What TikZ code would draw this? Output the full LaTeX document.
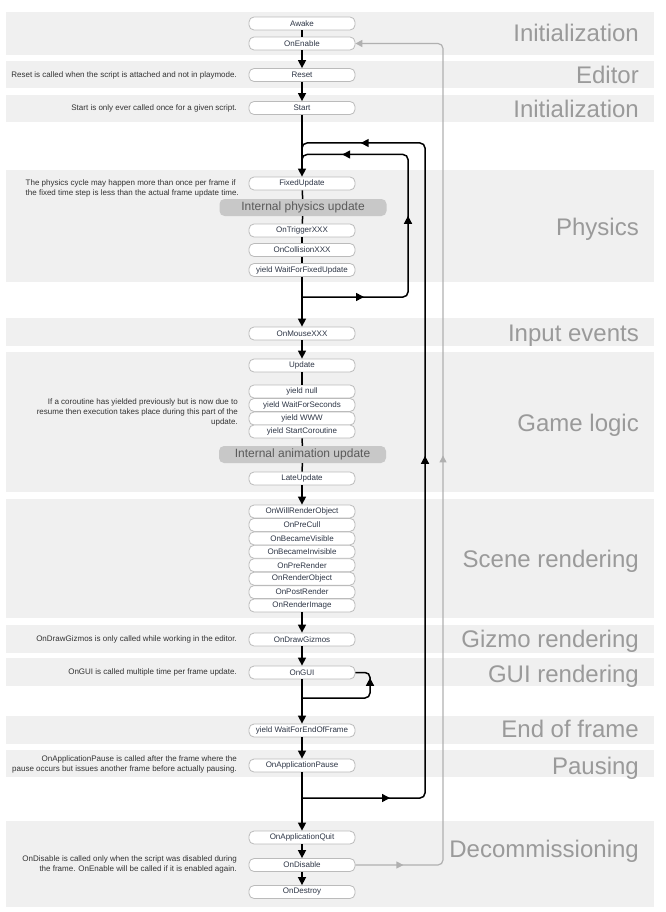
\documentclass[tikz,border=0pt]{standalone}
\usepackage{fontspec}
\setmainfont{Liberation Sans}
\usetikzlibrary{arrows.meta,decorations.markings}

\definecolor{band}{HTML}{F0F0F0}
\definecolor{boxline}{HTML}{BBBBBB}
\definecolor{nodetext}{HTML}{2E3646}
\definecolor{sectext}{HTML}{9A9A9A}
\definecolor{intfill}{HTML}{C8C8C8}
\definecolor{inttext}{HTML}{5A5A5A}
\definecolor{desctext}{HTML}{333333}
\definecolor{graylink}{HTML}{B0B0B0}

\tikzset{
  fn/.style={draw=boxline, line width=0.8pt, fill=white, rounded corners=5pt,
    minimum width=106pt, minimum height=13pt, inner sep=0pt, text=nodetext,
    font=\fontsize{8}{9}\selectfont},
  intbox/.style={fill=intfill, rounded corners=5pt, minimum width=167pt,
    minimum height=17pt, inner sep=0pt, text=inttext, font=\fontsize{12}{13}\selectfont},
  seclabel/.style={anchor=base east, text=sectext, font=\fontsize{24}{26}\selectfont, inner sep=0pt},
  desc/.style={anchor=east, align=right, text=desctext, font=\fontsize{8}{10}\selectfont, inner sep=0pt},
  descl/.style={anchor=west, align=left, text=desctext, font=\fontsize{8}{10}\selectfont, inner sep=0pt},
  flow/.style={line width=1.5pt, draw=black},
  flowarr/.style={flow, -{Triangle[length=8pt,width=8pt]}},
  loopline/.style={flow, rounded corners=5pt},
  grayline/.style={line width=1.2pt, draw=graylink, rounded corners=5pt},
}

\begin{document}
\begin{tikzpicture}[x=1pt,y=-1pt]
\useasboundingbox (0,0) rectangle (665,912);

% bands
\fill[band] (6,12) rectangle (654,55);
\fill[band] (6,61) rectangle (654,88);
\fill[band] (6,95) rectangle (654,122);
\fill[band] (6,170) rectangle (654,282);
\fill[band] (6,318) rectangle (654,346);
\fill[band] (6,352) rectangle (654,492);
\fill[band] (6,499) rectangle (654,618);
\fill[band] (6,625) rectangle (654,653);
\fill[band] (6,658) rectangle (654,686);
\fill[band] (6,716) rectangle (654,744);
\fill[band] (6,750) rectangle (654,777);
\fill[band] (6,821) rectangle (654,907);

% section labels
\node[seclabel] (l1) at (639,41.7) {Initialization};
\node[seclabel] (l2) at (639,83.3) {Editor};
\node[seclabel] (l3) at (639,117.3) {Initialization};
\node[seclabel] (l4) at (639,235) {Physics};
\node[seclabel] (l5) at (639,341) {Input events};
\node[seclabel] (l6) at (639,431) {Game logic};
\node[seclabel] (l7) at (639,567.7) {Scene rendering};
\node[seclabel] (l8) at (639,647.7) {Gizmo rendering};
\node[seclabel] (l9) at (639,682.7) {GUI rendering};
\node[seclabel] (l10) at (639,737.3) {End of frame};
\node[seclabel] (l11) at (639,774.3) {Pausing};
\node[seclabel] (l12) at (639,857.5) {Decommissioning};

% descriptions
\node[desc] (d1) at (237,75) {Reset is called when the script is attached and not in playmode.};
\node[desc] (d2) at (237,108) {Start is only ever called once for a given script.};
\node[descl] (d3) at (25.5,188) {The physics cycle may happen more than once per frame if\\the fixed time step is less than the actual frame update time.};
\node[desc] (d4) at (238,412) {If a coroutine has yielded previously but is now due to\\resume then execution takes place during this part of the\\update.};
\node[desc] (d5) at (237,639.5) {OnDrawGizmos is only called while working in the editor.};
\node[desc] (d6) at (237,672.5) {OnGUI is called multiple time per frame update.};
\node[desc] (d7) at (237,764) {OnApplicationPause is called after the frame where the\\pause occurs but issues another frame before actually pausing.};
\node[desc] (d8) at (237,864) {OnDisable is called only when the script was disabled during\\the frame. OnEnable will be called if it is enabled again.};

% loop coordinates
\coordinate (physbranch) at (302,297);
\coordinate (physjoin) at (302,168);
\coordinate (guibranch) at (302,698);
\coordinate (framebranch) at (302,798);

% loops (drawn before nodes)
\draw[loopline, postaction={decorate}, decoration={markings,
   mark=at position 62pt with {\arrow{Triangle[length=8pt,width=8pt]}},
   mark=at position 185pt with {\arrow{Triangle[length=8pt,width=8pt]}},
   mark=at position 310pt with {\arrow{Triangle[length=8pt,width=8pt]}}}]
  (physbranch) -- (408,297) -- (408,154.5) -- (302,154.5) -- (physjoin);
\draw[loopline, postaction={decorate}, decoration={markings,
   mark=at position 88pt with {\arrow{Triangle[length=8pt,width=8pt]}},
   mark=at position 463pt with {\arrow{Triangle[length=8pt,width=8pt]}},
   mark=at position 838pt with {\arrow{Triangle[length=8pt,width=8pt]}}}]
  (framebranch) -- (425,798) -- (425,143) -- (302,143) -- (physjoin);
\draw[loopline, postaction={decorate}, decoration={markings,
   mark=at position 86pt with {\arrow{Triangle[length=8pt,width=8pt]}}}]
  (guibranch) -- (370,698) -- (370,672.5) -- (354,672.5);

% nodes
\node[fn] (awake) at (302,23.5) {Awake};
\node[fn] (onenable) at (302,43.5) {OnEnable};
\node[fn] (reset) at (302,75) {Reset};
\node[fn] (start) at (302,108) {Start};
\node[fn] (fixed) at (302,183.5) {FixedUpdate};
\node[intbox] (iphys) at (303,207.5) {Internal physics update};
\node[fn] (trigger) at (302,230.5) {OnTriggerXXX};
\node[fn] (collision) at (302,250) {OnCollisionXXX};
\node[fn] (waitfixed) at (302,270) {yield WaitForFixedUpdate};
\node[fn] (mouse) at (302,333.5) {OnMouseXXX};
\node[fn] (update) at (302,365.5) {Update};
\node[fn] (ynull) at (302,391.5) {yield null};
\node[fn] (ysec) at (302,405) {yield WaitForSeconds};
\node[fn] (ywww) at (302,418.5) {yield WWW};
\node[fn] (ycor) at (302,431.5) {yield StartCoroutine};
\node[intbox] (ianim) at (302.5,454.5) {Internal animation update};
\node[fn] (late) at (302,478.5) {LateUpdate};
\node[fn] (s1) at (302,511.5) {OnWillRenderObject};
\node[fn] (s2) at (302,524.9) {OnPreCull};
\node[fn] (s3) at (302,538.4) {OnBecameVisible};
\node[fn] (s4) at (302,551.8) {OnBecameInvisible};
\node[fn] (s5) at (302,565.2) {OnPreRender};
\node[fn] (s6) at (302,578.7) {OnRenderObject};
\node[fn] (s7) at (302,592.1) {OnPostRender};
\node[fn] (s8) at (302,605.5) {OnRenderImage};
\node[fn] (gizmos) at (302,639.5) {OnDrawGizmos};
\node[fn] (ongui) at (302,672.5) {OnGUI};
\node[fn] (endframe) at (302,730.5) {yield WaitForEndOfFrame};
\node[fn] (pause) at (302,765.5) {OnApplicationPause};
\node[fn] (quit) at (302,837.5) {OnApplicationQuit};
\node[fn] (disable) at (302,865) {OnDisable};
\node[fn] (destroy) at (302,892) {OnDestroy};

% main flow
\draw[flow] (awake) -- (onenable);
\draw[flowarr] (onenable) -- (reset);
\draw[flowarr] (reset) -- (start);
\draw[flowarr] (start) -- (fixed);
\draw[flow] (fixed) -- (iphys);
\draw[flow] (iphys) -- (trigger);
\draw[flow] (trigger) -- (collision);
\draw[flow] (collision) -- (waitfixed);
\draw[flowarr] (waitfixed) -- (mouse);
\draw[flowarr] (mouse) -- (update);
\draw[flow] (update) -- (ynull);
\draw[flow] (ycor) -- (ianim);
\draw[flow] (ianim) -- (late);
\draw[flowarr] (late) -- (s1);
\draw[flowarr] (s8) -- (gizmos);
\draw[flowarr] (gizmos) -- (ongui);
\draw[flowarr] (ongui) -- (endframe);
\draw[flowarr] (endframe) -- (pause);
\draw[flowarr] (pause) -- (quit);
\draw[flowarr] (quit) -- (disable);
\draw[flowarr] (disable) -- (destroy);

% gray re-enable link
\draw[grayline, -{Triangle[length=7pt,width=7pt]}, postaction={decorate}, decoration={markings,
   mark=at position 48pt with {\arrow{Triangle[length=7pt,width=7pt]}},
   mark=at position 495pt with {\arrow{Triangle[length=7pt,width=7pt]}}}]
  (disable.east) -- (443,865) -- (443,43.5) -- (onenable.east);
\end{tikzpicture}
\end{document}
